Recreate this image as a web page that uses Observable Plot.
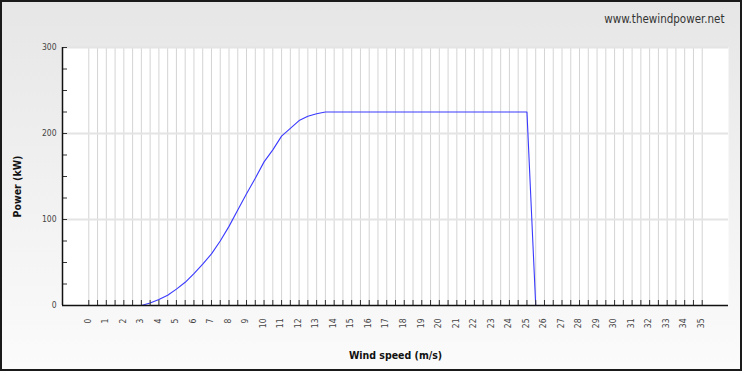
<!DOCTYPE html>
<html>
<head>
<meta charset="utf-8">
<script src="https://cdn.jsdelivr.net/npm/d3@7"></script>
<script src="https://cdn.jsdelivr.net/npm/@observablehq/plot@0.6"></script>
<style>
  html, body { margin: 0; padding: 0; background: #fff; }
  #wrap { position: relative; width: 742px; height: 371px; overflow: hidden;
          background: linear-gradient(to bottom, #e6e6e6 0%, #f3f3f3 60%, #fbfbfb 100%); }
  #wrap svg { display: block; }
  #border { position: absolute; left: 0; top: 0; width: 742px; height: 371px;
            box-sizing: border-box; border: 2px solid #1a1a1a; pointer-events: none; }
</style>
</head>
<body>
<div id="wrap"><div id="border"></div></div>
<script>
// Power curve (wind speed in m/s, power in kW)
const windSpeed = [3, 3.5, 4, 4.5, 5, 5.5, 6, 6.5, 7, 7.5, 8, 8.5, 9, 9.5, 10, 10.5, 11, 11.5, 12, 12.5, 13, 13.5,
                   14, 15, 16, 17, 18, 19, 20, 21, 22, 23, 24, 25, 25.5];
const powerKW   = [0, 3, 7, 12, 19, 27, 37, 48, 60, 75, 92, 111, 130, 148, 167, 181, 197, 206, 215, 220, 223, 225,
                   225, 225, 225, 225, 225, 225, 225, 225, 225, 225, 225, 225, 0];

// Axis tick labels
const xTickLabels = [0, 1, 2, 3, 4, 5, 6, 7, 8, 9, 10, 11, 12, 13, 14, 15, 16, 17, 18, 19, 20,
                     21, 22, 23, 24, 25, 26, 27, 28, 29, 30, 31, 32, 33, 34, 35];
const yTickLabels = [0, 100, 200, 300];
const yMinorTicks = [0, 25, 50, 75, 100, 125, 150, 175, 200, 225, 250, 275, 300];
const yGrid = [100, 200, 300];
const xHalfSteps = d3.range(0, 35.5, 0.5);

const titleText = "www.thewindpower.net";
const xTitle = "Wind speed (m/s)";
const yTitle = "Power (kW)";

const data = windSpeed.map((v, i) => ({speed: v, power: powerKW[i]}));
const font = "'DejaVu Sans Condensed', 'DejaVu Sans', sans-serif";

const chart = Plot.plot({
  width: 742,
  height: 371,
  marginLeft: 62,
  marginRight: 14,
  marginTop: 47,
  marginBottom: 66,
  x: {domain: [-1.5, 36.5], axis: null},
  y: {domain: [0, 300], axis: null},
  style: {background: "transparent", fontFamily: font, color: "#333", overflow: "visible"},
  marks: [
    Plot.frame({fill: "white", stroke: null}),
    Plot.ruleX(xHalfSteps, {x: d => d, stroke: "#d4d4d4", strokeWidth: 1}),
    Plot.ruleY(yGrid, {y: d => d, stroke: "#e4e4e4", strokeWidth: 2}),
    Plot.line(data, {x: "speed", y: "power", stroke: "#3a3aff", strokeWidth: 1.1}),
    // inside ticks on x axis
    Plot.ruleX(xHalfSteps, {x: d => d, y1: 0, y2: 0, insetTop: -5, stroke: "#333", strokeWidth: 1}),
    // inside ticks on y axis
    Plot.ruleY(yMinorTicks, {y: d => d, x1: -1.5, x2: -1.5, insetRight: -5, stroke: "#333", strokeWidth: 1}),
    // axis lines
    Plot.ruleX([-1.5], {stroke: "#111", strokeWidth: 1.5}),
    Plot.ruleY([0], {stroke: "#111", strokeWidth: 1.5}),
    // tick labels
    Plot.text(yTickLabels, {y: d => d, text: d => String(d), frameAnchor: "left", dx: -6,
                            textAnchor: "end", lineAnchor: "middle", fontSize: 8.5, fill: "#444"}),
    Plot.text(xTickLabels, {x: d => d, text: d => String(d), frameAnchor: "bottom", dy: 13, dx: -1,
                            rotate: -90, textAnchor: "end", lineAnchor: "middle", fontSize: 8.5, fill: "#444"}),
    // titles
    Plot.text([xTitle], {text: d => d, frameAnchor: "bottom", dy: 50, fontWeight: "bold",
                         textAnchor: "middle", lineAnchor: "middle", fontSize: 10.5, fill: "#111"}),
    Plot.text([yTitle], {text: d => d, frameAnchor: "left", dx: -45, dy: 10, rotate: -90,
                         textAnchor: "middle", lineAnchor: "middle",
                         fontWeight: "bold", fontSize: 10.5, fill: "#111"}),
    Plot.text([titleText], {text: d => d, frameAnchor: "top-right", dx: -4, dy: -28,
                            textAnchor: "end", lineAnchor: "middle", fontSize: 11.5, fill: "#333"})
  ]
});

document.getElementById("wrap").insertBefore(chart, document.getElementById("border"));
</script>
</body>
</html>
